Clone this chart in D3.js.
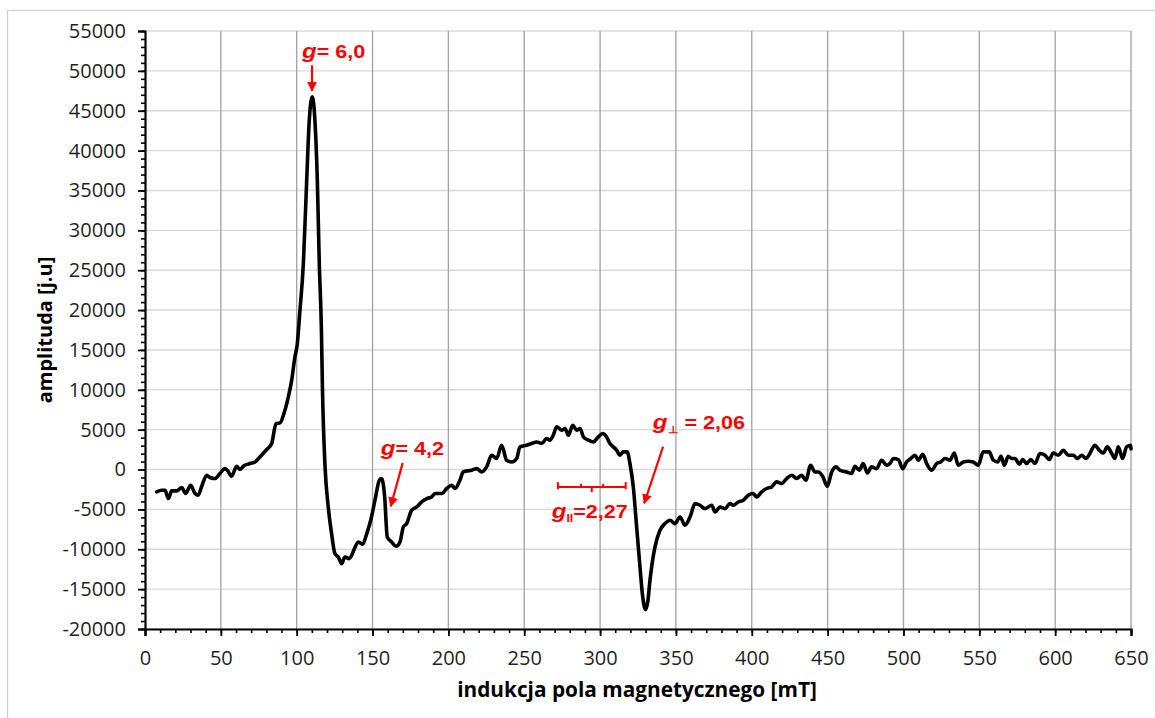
<!DOCTYPE html>
<html>
<head>
<meta charset="utf-8">
<script src="https://cdn.jsdelivr.net/npm/d3@7"></script>
<style>
  body { margin: 0; background: #fff; }
  svg { display: block; }
</style>
</head>
<body>
<svg id="chart" width="1155" height="718"></svg>
<script>
// EPR spectrum: magnetic field induction [mT] vs. signal amplitude [a.u.]
const field = [
  7.7, 11, 13.2, 15.4, 17.6, 20.9, 24.2, 26.8, 30.1, 33, 35.1, 37.4, 40.7, 42.8, 46.1, 49.4,
  52.7, 54.3, 57.1, 60.4, 62.6, 64.8, 69.2, 72.5, 75.8, 80.2, 83.5, 86.4, 89, 91.6, 94.5, 96.7,
  98.9, 100.3, 102, 104.4, 106.6, 108.3, 110.3, 112, 113.6, 114.9, 116.3, 117, 118.7,
  120.8, 123, 125.2, 127.4, 129.7, 131.8, 134.7, 136.3, 138.5, 140.7, 143.5, 146.2, 148.8,
  151.6, 154.5, 156, 158, 159.7, 162.6, 165.5, 168.1, 170.3, 172.5, 175.8, 179.1, 182.4,
  185.7, 189, 191.2, 195.6, 198.9, 202.2, 204.4, 207.6, 209.8, 212, 215.4, 218.7, 222, 225.2,
  228.5, 231.8, 235.1, 238.4, 241.7, 245, 247.2, 251.6, 254.9, 258.2, 261.5, 264.8, 266.9,
  269.1, 271.4, 274.7, 276.9, 279.1, 282, 284.6, 286.8, 289, 292.3, 295.5, 298.8, 301.7,
  304.3, 306.5, 308.7, 310.9, 313.1, 315.3, 317.9, 319.7, 321.9, 324.1, 326.3, 328, 330,
  331.5, 332.9, 336.2, 339.5, 342.8, 346.1, 349.4, 352.7, 356, 359.3, 362.6, 365.9, 369.2,
  373.6, 375.8, 379.1, 382.4, 385.7, 387.8, 391.1, 394.4, 397.7, 401, 403.2, 406.5, 409.8,
  413.1, 416.4, 419.7, 423, 426.3, 429.6, 432.9, 435.7, 438.8, 441.6, 443.9, 446.7, 449.8,
  452.7, 455.5, 458.1, 462.5, 465.8, 468, 470.9, 473.5, 476.2, 479, 482.3, 485.6, 488.9,
  491.1, 493.3, 496.6, 499.5, 502.1, 504.8, 507.6, 509.8, 512.7, 515.3, 518.6, 521.9, 524.5,
  527.4, 530.7, 533.5, 536.1, 539.4, 542.7, 546, 549.3, 552.6, 556.5, 559.2, 562.1, 564.3,
  566.5, 569.1, 571.3, 573.5, 576.4, 578.6, 581.2, 583.9, 586.7, 590, 593.3, 596.1, 598.8,
  602.1, 605.4, 608.7, 612, 614.6, 617.5, 620.3, 622.9, 626.2, 629.1, 631.7, 634.4, 637.3,
  639.4, 641.6, 644.5, 647.1, 649.8, 650
];
const amplitude = [
  -2810, -2600, -2600, -3640, -2680, -2680, -2260, -3010, -1970, -3010, -3220, -2100, -720, -1000, -1130, -500,
  120, -90, -840, 410, 0, 410, 750, 950, 1580, 2510, 3260, 5770, 5850, 7030, 9110, 11200,
  14200, 15600, 19600, 25850, 36300, 43830, 46750, 43830, 36300, 25850, 17480, 10000, 330,
  -4690, -8030, -10540, -10970, -11800, -10970, -11170, -10750, -9710, -9080, -9370, -8030, -6360,
  -3850, -1340, -1130, -3440, -8460, -9080, -9620, -9080, -7200, -6780, -5100, -4690, -4070,
  -3640, -3440, -3010, -3010, -2380, -1970, -2380, -1340, -300, -180, -90, 120, -300, 330,
  1790, 1380, 3050, 1170, 950, 1380, 2840, 3050, 3260, 3460, 3260, 3890, 3680,
  4300, 5350, 4930, 5140, 4300, 5560, 4930, 5140, 4090, 3680, 3460, 4090, 4520,
  4090, 3260, 2840, 2420, 1790, 2210, 2210, 750, -2180, -7200, -12220, -15800, -17570,
  -16500, -13890, -9710, -7620, -6780, -6360, -6780, -5950, -6990, -5950, -4270, -4480, -4900,
  -4480, -5320, -4690, -4900, -4270, -4480, -4070, -3850, -3220, -3010, -3440, -2810, -2380,
  -2180, -1550, -1760, -1130, -720, -1130, -720, -1340, 540, -300, -300, -840, -2100,
  -300, 330, -90, -300, -500, 410, -90, 750, -430, 330, 120, 1170, 540,
  750, 1380, 1250, 120, 950, 1380, 1790, 1170, 1920, 750, -90, 750, 950,
  1380, 1170, 2080, 540, 950, 1040, 950, 540, 2210, 2210, 1170, 950, 1670,
  540, 1670, 1380, 1380, 670, 1250, 750, 1250, 750, 2010, 1790, 1250, 2080,
  1790, 2420, 1790, 1790, 1380, 1790, 1380, 2010, 3050, 2420, 2080, 2840, 2010,
  1380, 2840, 1380, 2840, 3050, 2600
];

const xTicks = d3.range(0, 651, 50);
const xMinorTicks = d3.range(0, 651, 10);
const yTicks = d3.range(-20000, 55001, 5000);
const yMinorTicks = d3.range(-20000, 55001, 1000);

const xTitle = "indukcja pola magnetycznego [mT]";
const yTitle = "amplituda [j.u]";

const svg = d3.select("#chart");
const W = 1155, H = 718;
const plot = { left: 145, right: 1131, top: 31, bottom: 629 };

const x = d3.scaleLinear().domain([0, 650]).range([plot.left, plot.right]);
const y = d3.scaleLinear().domain([-20000, 55000]).range([plot.bottom, plot.top]);

const tickFont = "'Open Sans', 'Liberation Sans', sans-serif";
const red = "#ff0000";
const plainNumber = d => String(d);

// outer chart frame
svg.append("rect")
  .attr("x", 7.5).attr("y", 10.5)
  .attr("width", W + 20).attr("height", H + 20)
  .attr("fill", "#fff").attr("stroke", "#d0d0d0").attr("stroke-width", 1.3);

// gridlines
svg.append("g").selectAll("line").data(yTicks).join("line")
  .attr("x1", plot.left).attr("x2", plot.right)
  .attr("y1", d => y(d)).attr("y2", d => y(d))
  .attr("stroke", "#d9d9d9").attr("stroke-width", 1.4);

svg.append("g").selectAll("line").data(xTicks.filter(d => d > 0)).join("line")
  .attr("x1", d => x(d)).attr("x2", d => x(d))
  .attr("y1", plot.top).attr("y2", plot.bottom)
  .attr("stroke", "#a6a6a6").attr("stroke-width", 1.4);

// minor ticks
const yMinor = svg.append("g").attr("transform", `translate(${plot.left},0)`)
  .call(d3.axisLeft(y).tickValues(yMinorTicks).tickSize(4).tickFormat(""));
const xMinor = svg.append("g").attr("transform", `translate(0,${plot.bottom})`)
  .call(d3.axisBottom(x).tickValues(xMinorTicks).tickSize(4).tickFormat(""));
[yMinor, xMinor].forEach(g => {
  g.select(".domain").remove();
  g.selectAll("line").attr("stroke", "#000").attr("stroke-width", 1.6);
});

// major axes
const yAxis = svg.append("g").attr("transform", `translate(${plot.left},0)`)
  .call(d3.axisLeft(y).tickValues(yTicks).tickSize(7).tickPadding(12).tickFormat(plainNumber));
const xAxis = svg.append("g").attr("transform", `translate(0,${plot.bottom})`)
  .call(d3.axisBottom(x).tickValues(xTicks).tickSize(7).tickPadding(15).tickFormat(plainNumber));
[yAxis, xAxis].forEach(g => {
  g.select(".domain").attr("stroke", "#000").attr("stroke-width", 2.2);
  g.selectAll(".tick line").attr("stroke", "#000").attr("stroke-width", 1.8);
  g.selectAll(".tick text")
    .attr("fill", "#1f1f1f")
    .style("font-family", tickFont)
    .style("font-size", "20px");
});

// axis titles
svg.append("text")
  .attr("x", (plot.left + plot.right) / 2 - 1).attr("y", 697)
  .attr("text-anchor", "middle")
  .style("font-family", tickFont).style("font-weight", "bold").style("font-size", "20.8px")
  .attr("fill", "#000")
  .text(xTitle);

svg.append("text")
  .attr("transform", `translate(52,${(plot.top + plot.bottom) / 2}) rotate(-90)`)
  .attr("text-anchor", "middle")
  .style("font-family", tickFont).style("font-weight", "bold").style("font-size", "20px")
  .attr("fill", "#000")
  .text(yTitle);

// spectrum line
const pts = field.map((f, i) => [f, amplitude[i]]);
svg.append("path")
  .datum(pts)
  .attr("fill", "none")
  .attr("stroke", "#000")
  .attr("stroke-width", 3.6)
  .attr("stroke-linejoin", "round")
  .attr("stroke-linecap", "round")
  .attr("d", d3.line().curve(d3.curveMonotoneX).x(d => x(d[0])).y(d => y(d[1])));

// g-factor annotations (anchors in data units); text is drawn slightly widened
const annoFont = "'Liberation Sans', Arial, sans-serif";
const labels = [
  { at: [103.5, 51600], parts: [["g", "italic"], ["= 6,0", ""]] },
  { at: [155.4, 1800],  parts: [["g", "italic"], ["=", ""], ["4,2", "", 5]] },
  { at: [334.8, 5060],  parts: [["g", "italic"], ["⊥", "sub"], [" = 2,06", ""]] },
  { at: [268.2, -6140], parts: [["g", "italic"], ["II", "sub"], ["=2,27", ""]] }
];

labels.forEach(l => {
  const t = svg.append("text")
    .attr("transform", `translate(${x(l.at[0])},${y(l.at[1])}) scale(1.2,1)`)
    .attr("fill", red)
    .style("font-family", annoFont).style("font-weight", "bold").style("font-size", "18px");
  let afterSub = false;
  l.parts.forEach(([s, kind, gap]) => {
    const ts = t.append("tspan").text(s);
    if (kind === "italic") ts.style("font-style", "italic").style("font-size", "20px");
    if (kind === "sub") ts.style("font-size", "10px").attr("dy", 4);
    else if (afterSub) ts.attr("dy", -4);
    afterSub = kind === "sub";
    if (gap) ts.attr("dx", gap);
  });
});

// arrowheads
const defs = svg.append("defs");
defs.append("marker")
  .attr("id", "head").attr("viewBox", "0 0 10 10")
  .attr("refX", 9).attr("refY", 5)
  .attr("markerWidth", 4.5).attr("markerHeight", 4.5)
  .attr("markerUnits", "strokeWidth")
  .attr("orient", "auto")
  .append("path").attr("d", "M0,0 L10,5 L0,10 Z").attr("fill", red);

const arrows = [
  { from: [110.1, 50700], to: [110.1, 47500] },
  { from: [169.9, 830],   to: [162.0, -4600] },
  { from: [341.5, 2860],  to: [329.1, -4230] }
];
svg.append("g").selectAll("line").data(arrows).join("line")
  .attr("x1", d => x(d.from[0])).attr("y1", d => y(d.from[1]))
  .attr("x2", d => x(d.to[0])).attr("y2", d => y(d.to[1]))
  .attr("stroke", red).attr("stroke-width", 2.2)
  .attr("marker-end", "url(#head)");

// g-parallel hyperfine bar
const barY = -2180;
const barStart = 272.2, barEnd = 316.9;
const barTicks = [
  { f: 272.2, up: 600, down: 300 },
  { f: 287.4, up: 400, down: 0 },
  { f: 294.5, up: 0, down: 650 },
  { f: 302.1, up: 400, down: 0 },
  { f: 316.9, up: 600, down: 300 }
];
const bar = svg.append("g").attr("stroke", red).attr("stroke-width", 2);
bar.append("line")
  .attr("x1", x(barStart)).attr("x2", x(barEnd))
  .attr("y1", y(barY)).attr("y2", y(barY));
bar.selectAll("line.t").data(barTicks).join("line").attr("class", "t")
  .attr("x1", d => x(d.f)).attr("x2", d => x(d.f))
  .attr("y1", d => y(barY + d.up)).attr("y2", d => y(barY - d.down));
</script>
</body>
</html>
